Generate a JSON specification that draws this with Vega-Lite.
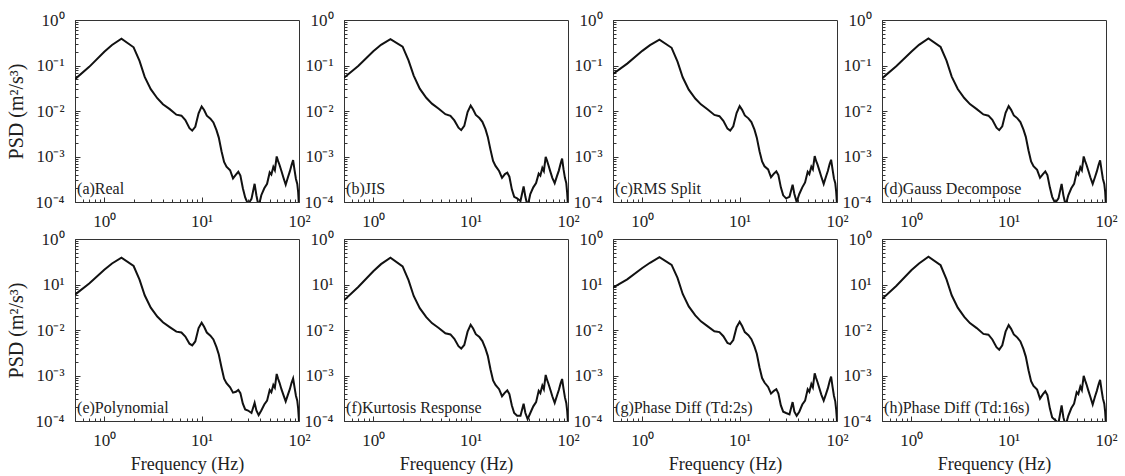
{
"$schema":"https://vega.github.io/schema/vega-lite/v6.json",
"background":"white",
"padding":{"left":5,"top":10,"right":5,"bottom":5},
"datasets":{
"a":[{"f":0.5,"v":0.0501},{"f":0.7,"v":0.0933},{"f":1,"v":0.1995},{"f":1.2,"v":0.2818},{"f":1.5,"v":0.389},{"f":2,"v":0.2512},{"f":2.3,"v":0.1259},{"f":2.6,"v":0.0562},{"f":3,"v":0.0302},{"f":3.5,"v":0.0191},{"f":4,"v":0.0141},{"f":4.7,"v":0.011},{"f":5.5,"v":0.0083},{"f":6.2,"v":0.0079},{"f":6.8,"v":0.0063},{"f":7.5,"v":0.0042},{"f":8,"v":0.0037},{"f":8.6,"v":0.0045},{"f":9.3,"v":0.0089},{"f":10,"v":0.0126},{"f":10.6,"v":0.0105},{"f":11.3,"v":0.0079},{"f":12.3,"v":0.0068},{"f":13.2,"v":0.0056},{"f":14.2,"v":0.0038},{"f":15,"v":0.0026},{"f":16,"v":0.0013},{"f":17,"v":0.00076},{"f":18,"v":0.0006},{"f":19.6,"v":0.0005},{"f":21,"v":0.00033},{"f":22.5,"v":0.0004},{"f":23.8,"v":0.00046},{"f":25,"v":0.00038},{"f":26.5,"v":0.0002},{"f":28,"v":0.000126},{"f":30,"v":0.000089},{"f":32.5,"v":0.000117},{"f":35,"v":0.000251},{"f":36.5,"v":0.000141},{"f":38.5,"v":0.000079},{"f":41,"v":0.000141},{"f":44,"v":0.0002},{"f":47,"v":0.000251},{"f":50,"v":0.000447},{"f":52,"v":0.0004},{"f":54.5,"v":0.000589},{"f":56.5,"v":0.0005},{"f":59,"v":0.001},{"f":61,"v":0.00079},{"f":63,"v":0.00066},{"f":66,"v":0.00048},{"f":69,"v":0.00035},{"f":73,"v":0.00024},{"f":77,"v":0.00035},{"f":80.5,"v":0.00047},{"f":84,"v":0.00066},{"f":87,"v":0.00083},{"f":90,"v":0.0005},{"f":93,"v":0.00032},{"f":96,"v":0.00025},{"f":98,"v":0.000166},{"f":100,"v":0.000079}],
"b":[{"f":0.5,"v":0.054},{"f":0.7,"v":0.098},{"f":1,"v":0.205},{"f":1.2,"v":0.285},{"f":1.5,"v":0.38},{"f":2,"v":0.26},{"f":2.3,"v":0.13},{"f":2.6,"v":0.06},{"f":3,"v":0.031},{"f":3.5,"v":0.0195},{"f":4,"v":0.0145},{"f":4.7,"v":0.0112},{"f":5.5,"v":0.0085},{"f":6.2,"v":0.0078},{"f":6.8,"v":0.0062},{"f":7.5,"v":0.0043},{"f":8,"v":0.0038},{"f":8.6,"v":0.0047},{"f":9.3,"v":0.0095},{"f":10,"v":0.0132},{"f":10.6,"v":0.0108},{"f":11.3,"v":0.0082},{"f":12.3,"v":0.007},{"f":13.2,"v":0.0058},{"f":14.2,"v":0.004},{"f":15,"v":0.0027},{"f":16,"v":0.0014},{"f":17,"v":0.0008},{"f":18,"v":0.00062},{"f":19.6,"v":0.00048},{"f":21,"v":0.00034},{"f":22.5,"v":0.00041},{"f":23.8,"v":0.00044},{"f":25,"v":0.00036},{"f":26.5,"v":0.00019},{"f":28,"v":0.00013},{"f":30,"v":0.00012},{"f":32.5,"v":0.000105},{"f":35,"v":0.00022},{"f":36.5,"v":0.00013},{"f":38.5,"v":0.00008},{"f":41,"v":0.00015},{"f":44,"v":0.00021},{"f":47,"v":0.00026},{"f":50,"v":0.00042},{"f":52,"v":0.00038},{"f":54.5,"v":0.00056},{"f":56.5,"v":0.00048},{"f":59,"v":0.00098},{"f":61,"v":0.0008},{"f":63,"v":0.00064},{"f":66,"v":0.00046},{"f":69,"v":0.00034},{"f":73,"v":0.00026},{"f":77,"v":0.00037},{"f":80.5,"v":0.00049},{"f":84,"v":0.0007},{"f":87,"v":0.0009},{"f":90,"v":0.00052},{"f":93,"v":0.00034},{"f":96,"v":0.00026},{"f":98,"v":0.00016},{"f":100,"v":0.00008}],
"c":[{"f":0.5,"v":0.065},{"f":0.7,"v":0.11},{"f":1,"v":0.21},{"f":1.2,"v":0.28},{"f":1.5,"v":0.37},{"f":2,"v":0.245},{"f":2.3,"v":0.122},{"f":2.6,"v":0.055},{"f":3,"v":0.0295},{"f":3.5,"v":0.0188},{"f":4,"v":0.014},{"f":4.7,"v":0.0108},{"f":5.5,"v":0.0082},{"f":6.2,"v":0.0077},{"f":6.8,"v":0.0061},{"f":7.5,"v":0.0041},{"f":8,"v":0.0037},{"f":8.6,"v":0.0046},{"f":9.3,"v":0.009},{"f":10,"v":0.0128},{"f":10.6,"v":0.0106},{"f":11.3,"v":0.008},{"f":12.3,"v":0.0069},{"f":13.2,"v":0.0057},{"f":14.2,"v":0.0039},{"f":15,"v":0.0026},{"f":16,"v":0.0013},{"f":17,"v":0.00078},{"f":18,"v":0.00061},{"f":19.6,"v":0.00052},{"f":21,"v":0.00035},{"f":22.5,"v":0.00042},{"f":23.8,"v":0.00047},{"f":25,"v":0.00039},{"f":26.5,"v":0.00021},{"f":28,"v":0.00014},{"f":30,"v":0.00012},{"f":32.5,"v":0.00013},{"f":35,"v":0.00024},{"f":36.5,"v":0.00015},{"f":38.5,"v":0.0001},{"f":41,"v":0.00015},{"f":44,"v":0.00021},{"f":47,"v":0.00027},{"f":50,"v":0.00046},{"f":52,"v":0.00041},{"f":54.5,"v":0.0006},{"f":56.5,"v":0.00052},{"f":59,"v":0.00102},{"f":61,"v":0.0008},{"f":63,"v":0.00067},{"f":66,"v":0.00049},{"f":69,"v":0.00036},{"f":73,"v":0.00025},{"f":77,"v":0.00036},{"f":80.5,"v":0.00048},{"f":84,"v":0.00068},{"f":87,"v":0.00085},{"f":90,"v":0.00052},{"f":93,"v":0.00033},{"f":96,"v":0.00026},{"f":98,"v":0.00017},{"f":100,"v":0.00009}],
"d":[{"f":0.5,"v":0.052},{"f":0.7,"v":0.096},{"f":1,"v":0.2},{"f":1.2,"v":0.285},{"f":1.5,"v":0.395},{"f":2,"v":0.255},{"f":2.3,"v":0.128},{"f":2.6,"v":0.057},{"f":3,"v":0.0305},{"f":3.5,"v":0.0193},{"f":4,"v":0.0142},{"f":4.7,"v":0.011},{"f":5.5,"v":0.0084},{"f":6.2,"v":0.0079},{"f":6.8,"v":0.0064},{"f":7.5,"v":0.0043},{"f":8,"v":0.0038},{"f":8.6,"v":0.0046},{"f":9.3,"v":0.0091},{"f":10,"v":0.0128},{"f":10.6,"v":0.0106},{"f":11.3,"v":0.008},{"f":12.3,"v":0.0069},{"f":13.2,"v":0.0057},{"f":14.2,"v":0.0039},{"f":15,"v":0.0027},{"f":16,"v":0.00135},{"f":17,"v":0.00078},{"f":18,"v":0.00061},{"f":19.6,"v":0.00051},{"f":21,"v":0.00034},{"f":22.5,"v":0.00041},{"f":23.8,"v":0.00047},{"f":25,"v":0.00039},{"f":26.5,"v":0.00021},{"f":28,"v":0.00013},{"f":30,"v":0.000095},{"f":32.5,"v":0.00012},{"f":35,"v":0.00025},{"f":36.5,"v":0.00014},{"f":38.5,"v":0.000085},{"f":41,"v":0.00014},{"f":44,"v":0.0002},{"f":47,"v":0.00025},{"f":50,"v":0.00045},{"f":52,"v":0.0004},{"f":54.5,"v":0.00058},{"f":56.5,"v":0.0005},{"f":59,"v":0.001},{"f":61,"v":0.00079},{"f":63,"v":0.00066},{"f":66,"v":0.00048},{"f":69,"v":0.00035},{"f":73,"v":0.00025},{"f":77,"v":0.00035},{"f":80.5,"v":0.00047},{"f":84,"v":0.00066},{"f":87,"v":0.00082},{"f":90,"v":0.0005},{"f":93,"v":0.00032},{"f":96,"v":0.00025},{"f":98,"v":0.00017},{"f":100,"v":0.00008}],
"e":[{"f":0.5,"v":0.06},{"f":0.7,"v":0.105},{"f":1,"v":0.21},{"f":1.2,"v":0.29},{"f":1.5,"v":0.39},{"f":2,"v":0.255},{"f":2.3,"v":0.128},{"f":2.6,"v":0.058},{"f":3,"v":0.031},{"f":3.5,"v":0.0198},{"f":4,"v":0.0148},{"f":4.7,"v":0.0116},{"f":5.5,"v":0.0092},{"f":6.2,"v":0.0088},{"f":6.8,"v":0.0072},{"f":7.5,"v":0.005},{"f":8,"v":0.0046},{"f":8.6,"v":0.0056},{"f":9.3,"v":0.011},{"f":10,"v":0.0145},{"f":10.6,"v":0.0118},{"f":11.3,"v":0.0088},{"f":12.3,"v":0.0075},{"f":13.2,"v":0.0062},{"f":14.2,"v":0.0042},{"f":15,"v":0.0029},{"f":16,"v":0.0015},{"f":17,"v":0.00085},{"f":18,"v":0.00068},{"f":19.6,"v":0.00055},{"f":21,"v":0.00042},{"f":22.5,"v":0.00044},{"f":23.8,"v":0.00048},{"f":25,"v":0.00041},{"f":26.5,"v":0.00024},{"f":28,"v":0.00018},{"f":30,"v":0.00017},{"f":32.5,"v":0.00015},{"f":35,"v":0.00025},{"f":36.5,"v":0.00017},{"f":38.5,"v":0.000135},{"f":41,"v":0.00017},{"f":44,"v":0.00023},{"f":47,"v":0.00028},{"f":50,"v":0.00048},{"f":52,"v":0.00043},{"f":54.5,"v":0.00062},{"f":56.5,"v":0.00054},{"f":59,"v":0.00108},{"f":61,"v":0.00085},{"f":63,"v":0.0007},{"f":66,"v":0.0005},{"f":69,"v":0.00038},{"f":73,"v":0.00027},{"f":77,"v":0.00038},{"f":80.5,"v":0.0005},{"f":84,"v":0.0007},{"f":87,"v":0.00086},{"f":90,"v":0.00055},{"f":93,"v":0.00036},{"f":96,"v":0.00028},{"f":98,"v":0.00019},{"f":100,"v":0.0001}],
"f":[{"f":0.5,"v":0.045},{"f":0.7,"v":0.088},{"f":1,"v":0.195},{"f":1.2,"v":0.28},{"f":1.5,"v":0.39},{"f":2,"v":0.25},{"f":2.3,"v":0.125},{"f":2.6,"v":0.056},{"f":3,"v":0.0302},{"f":3.5,"v":0.0192},{"f":4,"v":0.0142},{"f":4.7,"v":0.0111},{"f":5.5,"v":0.0085},{"f":6.2,"v":0.008},{"f":6.8,"v":0.0064},{"f":7.5,"v":0.0044},{"f":8,"v":0.0039},{"f":8.6,"v":0.0047},{"f":9.3,"v":0.0092},{"f":10,"v":0.013},{"f":10.6,"v":0.0108},{"f":11.3,"v":0.0081},{"f":12.3,"v":0.007},{"f":13.2,"v":0.0057},{"f":14.2,"v":0.0039},{"f":15,"v":0.0027},{"f":16,"v":0.00135},{"f":17,"v":0.00078},{"f":18,"v":0.00062},{"f":19.6,"v":0.0005},{"f":21,"v":0.00035},{"f":22.5,"v":0.00042},{"f":23.8,"v":0.00047},{"f":25,"v":0.00039},{"f":26.5,"v":0.00022},{"f":28,"v":0.00015},{"f":30,"v":0.00013},{"f":32.5,"v":0.00013},{"f":35,"v":0.00024},{"f":36.5,"v":0.00015},{"f":38.5,"v":0.00011},{"f":41,"v":0.00015},{"f":44,"v":0.00021},{"f":47,"v":0.00026},{"f":50,"v":0.00046},{"f":52,"v":0.00041},{"f":54.5,"v":0.0006},{"f":56.5,"v":0.0005},{"f":59,"v":0.00103},{"f":61,"v":0.0008},{"f":63,"v":0.00066},{"f":66,"v":0.00048},{"f":69,"v":0.00035},{"f":73,"v":0.00025},{"f":77,"v":0.00036},{"f":80.5,"v":0.00048},{"f":84,"v":0.00067},{"f":87,"v":0.00084},{"f":90,"v":0.00051},{"f":93,"v":0.00033},{"f":96,"v":0.00025},{"f":98,"v":0.00017},{"f":100,"v":0.00009}],
"g":[{"f":0.5,"v":0.085},{"f":0.7,"v":0.13},{"f":1,"v":0.23},{"f":1.2,"v":0.3},{"f":1.5,"v":0.4},{"f":2,"v":0.27},{"f":2.3,"v":0.14},{"f":2.6,"v":0.062},{"f":3,"v":0.033},{"f":3.5,"v":0.021},{"f":4,"v":0.0155},{"f":4.7,"v":0.012},{"f":5.5,"v":0.0094},{"f":6.2,"v":0.009},{"f":6.8,"v":0.0073},{"f":7.5,"v":0.0052},{"f":8,"v":0.0049},{"f":8.6,"v":0.006},{"f":9.3,"v":0.0115},{"f":10,"v":0.0152},{"f":10.6,"v":0.0122},{"f":11.3,"v":0.009},{"f":12.3,"v":0.0077},{"f":13.2,"v":0.0063},{"f":14.2,"v":0.0043},{"f":15,"v":0.003},{"f":16,"v":0.0015},{"f":17,"v":0.00088},{"f":18,"v":0.0007},{"f":19.6,"v":0.00056},{"f":21,"v":0.0004},{"f":22.5,"v":0.00046},{"f":23.8,"v":0.0005},{"f":25,"v":0.0004},{"f":26.5,"v":0.00022},{"f":28,"v":0.00016},{"f":30,"v":0.00015},{"f":32.5,"v":0.00014},{"f":35,"v":0.00026},{"f":36.5,"v":0.00016},{"f":38.5,"v":0.00013},{"f":41,"v":0.00016},{"f":44,"v":0.00023},{"f":47,"v":0.00028},{"f":50,"v":0.0005},{"f":52,"v":0.00044},{"f":54.5,"v":0.00065},{"f":56.5,"v":0.00055},{"f":59,"v":0.00112},{"f":61,"v":0.00088},{"f":63,"v":0.00072},{"f":66,"v":0.00052},{"f":69,"v":0.00038},{"f":73,"v":0.00028},{"f":77,"v":0.00039},{"f":80.5,"v":0.00052},{"f":84,"v":0.00075},{"f":87,"v":0.00095},{"f":90,"v":0.00056},{"f":93,"v":0.00036},{"f":96,"v":0.00027},{"f":98,"v":0.00018},{"f":100,"v":0.0001}],
"h":[{"f":0.5,"v":0.048},{"f":0.7,"v":0.093},{"f":1,"v":0.205},{"f":1.2,"v":0.29},{"f":1.5,"v":0.41},{"f":2,"v":0.265},{"f":2.3,"v":0.13},{"f":2.6,"v":0.058},{"f":3,"v":0.031},{"f":3.5,"v":0.0195},{"f":4,"v":0.0142},{"f":4.7,"v":0.011},{"f":5.5,"v":0.0082},{"f":6.2,"v":0.0079},{"f":6.8,"v":0.0062},{"f":7.5,"v":0.0042},{"f":8,"v":0.0037},{"f":8.6,"v":0.0046},{"f":9.3,"v":0.0092},{"f":10,"v":0.0128},{"f":10.6,"v":0.0106},{"f":11.3,"v":0.008},{"f":12.3,"v":0.0068},{"f":13.2,"v":0.0056},{"f":14.2,"v":0.0038},{"f":15,"v":0.0026},{"f":16,"v":0.0013},{"f":17,"v":0.00075},{"f":18,"v":0.00059},{"f":19.6,"v":0.00049},{"f":21,"v":0.00031},{"f":22.5,"v":0.00039},{"f":23.8,"v":0.00045},{"f":25,"v":0.00037},{"f":26.5,"v":0.00019},{"f":28,"v":0.00012},{"f":30,"v":0.000105},{"f":32.5,"v":0.00009},{"f":35,"v":0.00022},{"f":36.5,"v":0.00012},{"f":38.5,"v":0.00008},{"f":41,"v":0.00013},{"f":44,"v":0.00019},{"f":47,"v":0.00024},{"f":50,"v":0.00043},{"f":52,"v":0.00039},{"f":54.5,"v":0.00057},{"f":56.5,"v":0.00048},{"f":59,"v":0.00098},{"f":61,"v":0.00078},{"f":63,"v":0.00064},{"f":66,"v":0.00046},{"f":69,"v":0.00034},{"f":73,"v":0.00023},{"f":77,"v":0.00034},{"f":80.5,"v":0.00046},{"f":84,"v":0.00064},{"f":87,"v":0.0008},{"f":90,"v":0.00048},{"f":93,"v":0.00031},{"f":96,"v":0.00024},{"f":98,"v":0.00016},{"f":100,"v":0.00008}]
},
"columns":4,
"spacing":{"row":37,"column":45},
"bounds":"flush",
"concat":[
{"width":224,"height":182,"layer":[
 {"data":{"name":"a"},"mark":{"type":"line","color":"#111","strokeWidth":2,"clip":true},
  "encoding":{"x":{"field":"f","type":"quantitative","scale":{"type":"log","domain":[0.5,100],"nice":false},"axis":{"title":null,"values":[0.6,0.7,0.8,0.9,1,2,3,4,5,6,7,8,9,10,20,30,40,50,60,70,80,90,100],"labelExpr":"datum.value==1?'10⁰':datum.value==10?'10¹':datum.value==100?'10²':''","tickSize":{"condition":{"test":"datum.value==1||datum.value==10||datum.value==100","value":-5},"value":-3}}},
   "y":{"field":"v","type":"quantitative","scale":{"type":"log","domain":[0.0001,1],"nice":false},"axis":{"title":"PSD (m²/s³)","values":[0.0001,0.0002,0.0003,0.0004,0.0005,0.0006,0.0007,0.0008,0.0009,0.001,0.002,0.003,0.004,0.005,0.006,0.007,0.008,0.009,0.01,0.02,0.03,0.04,0.05,0.06,0.07,0.08,0.09,0.1,0.2,0.3,0.4,0.5,0.6,0.7,0.8,0.9,1],"labelExpr":"datum.value==1?'10⁰':datum.value==0.1?'10⁻¹':datum.value==0.01?'10⁻²':datum.value==0.001?'10⁻³':datum.value==0.0001?'10⁻⁴':''","tickSize":{"condition":{"test":"datum.value==1||datum.value==0.1||datum.value==0.01||datum.value==0.001||datum.value==0.0001","value":-5},"value":-3}}}}},
 {"data":{"values":[{"label":"(a)Real"}]},"mark":{"type":"text","align":"left","baseline":"alphabetic"},
  "encoding":{"x":{"datum":0.525,"type":"quantitative"},"y":{"datum":0.00015,"type":"quantitative"},"text":{"field":"label"}}}
]},
{"width":224,"height":182,"layer":[
 {"data":{"name":"b"},"mark":{"type":"line","color":"#111","strokeWidth":2,"clip":true},
  "encoding":{"x":{"field":"f","type":"quantitative","scale":{"type":"log","domain":[0.5,100],"nice":false},"axis":{"title":null,"values":[0.6,0.7,0.8,0.9,1,2,3,4,5,6,7,8,9,10,20,30,40,50,60,70,80,90,100],"labelExpr":"datum.value==1?'10⁰':datum.value==10?'10¹':datum.value==100?'10²':''","tickSize":{"condition":{"test":"datum.value==1||datum.value==10||datum.value==100","value":-5},"value":-3}}},
   "y":{"field":"v","type":"quantitative","scale":{"type":"log","domain":[0.0001,1],"nice":false},"axis":{"title":null,"values":[0.0001,0.0002,0.0003,0.0004,0.0005,0.0006,0.0007,0.0008,0.0009,0.001,0.002,0.003,0.004,0.005,0.006,0.007,0.008,0.009,0.01,0.02,0.03,0.04,0.05,0.06,0.07,0.08,0.09,0.1,0.2,0.3,0.4,0.5,0.6,0.7,0.8,0.9,1],"labelExpr":"datum.value==1?'10⁰':datum.value==0.1?'10⁻¹':datum.value==0.01?'10⁻²':datum.value==0.001?'10⁻³':datum.value==0.0001?'10⁻⁴':''","tickSize":{"condition":{"test":"datum.value==1||datum.value==0.1||datum.value==0.01||datum.value==0.001||datum.value==0.0001","value":-5},"value":-3}}}}},
 {"data":{"values":[{"label":"(b)JIS"}]},"mark":{"type":"text","align":"left","baseline":"alphabetic"},
  "encoding":{"x":{"datum":0.525,"type":"quantitative"},"y":{"datum":0.00015,"type":"quantitative"},"text":{"field":"label"}}}
]},
{"width":224,"height":182,"layer":[
 {"data":{"name":"c"},"mark":{"type":"line","color":"#111","strokeWidth":2,"clip":true},
  "encoding":{"x":{"field":"f","type":"quantitative","scale":{"type":"log","domain":[0.5,100],"nice":false},"axis":{"title":null,"values":[0.6,0.7,0.8,0.9,1,2,3,4,5,6,7,8,9,10,20,30,40,50,60,70,80,90,100],"labelExpr":"datum.value==1?'10⁰':datum.value==10?'10¹':datum.value==100?'10²':''","tickSize":{"condition":{"test":"datum.value==1||datum.value==10||datum.value==100","value":-5},"value":-3}}},
   "y":{"field":"v","type":"quantitative","scale":{"type":"log","domain":[0.0001,1],"nice":false},"axis":{"title":null,"values":[0.0001,0.0002,0.0003,0.0004,0.0005,0.0006,0.0007,0.0008,0.0009,0.001,0.002,0.003,0.004,0.005,0.006,0.007,0.008,0.009,0.01,0.02,0.03,0.04,0.05,0.06,0.07,0.08,0.09,0.1,0.2,0.3,0.4,0.5,0.6,0.7,0.8,0.9,1],"labelExpr":"datum.value==1?'10⁰':datum.value==0.1?'10⁻¹':datum.value==0.01?'10⁻²':datum.value==0.001?'10⁻³':datum.value==0.0001?'10⁻⁴':''","tickSize":{"condition":{"test":"datum.value==1||datum.value==0.1||datum.value==0.01||datum.value==0.001||datum.value==0.0001","value":-5},"value":-3}}}}},
 {"data":{"values":[{"label":"(c)RMS Split"}]},"mark":{"type":"text","align":"left","baseline":"alphabetic"},
  "encoding":{"x":{"datum":0.525,"type":"quantitative"},"y":{"datum":0.00015,"type":"quantitative"},"text":{"field":"label"}}}
]},
{"width":224,"height":182,"layer":[
 {"data":{"name":"d"},"mark":{"type":"line","color":"#111","strokeWidth":2,"clip":true},
  "encoding":{"x":{"field":"f","type":"quantitative","scale":{"type":"log","domain":[0.5,100],"nice":false},"axis":{"title":null,"values":[0.6,0.7,0.8,0.9,1,2,3,4,5,6,7,8,9,10,20,30,40,50,60,70,80,90,100],"labelExpr":"datum.value==1?'10⁰':datum.value==10?'10¹':datum.value==100?'10²':''","tickSize":{"condition":{"test":"datum.value==1||datum.value==10||datum.value==100","value":-5},"value":-3}}},
   "y":{"field":"v","type":"quantitative","scale":{"type":"log","domain":[0.0001,1],"nice":false},"axis":{"title":null,"values":[0.0001,0.0002,0.0003,0.0004,0.0005,0.0006,0.0007,0.0008,0.0009,0.001,0.002,0.003,0.004,0.005,0.006,0.007,0.008,0.009,0.01,0.02,0.03,0.04,0.05,0.06,0.07,0.08,0.09,0.1,0.2,0.3,0.4,0.5,0.6,0.7,0.8,0.9,1],"labelExpr":"datum.value==1?'10⁰':datum.value==0.1?'10⁻¹':datum.value==0.01?'10⁻²':datum.value==0.001?'10⁻³':datum.value==0.0001?'10⁻⁴':''","tickSize":{"condition":{"test":"datum.value==1||datum.value==0.1||datum.value==0.01||datum.value==0.001||datum.value==0.0001","value":-5},"value":-3}}}}},
 {"data":{"values":[{"label":"(d)Gauss Decompose"}]},"mark":{"type":"text","align":"left","baseline":"alphabetic"},
  "encoding":{"x":{"datum":0.525,"type":"quantitative"},"y":{"datum":0.00015,"type":"quantitative"},"text":{"field":"label"}}}
]},
{"width":224,"height":182,"layer":[
 {"data":{"name":"e"},"mark":{"type":"line","color":"#111","strokeWidth":2,"clip":true},
  "encoding":{"x":{"field":"f","type":"quantitative","scale":{"type":"log","domain":[0.5,100],"nice":false},"axis":{"title":"Frequency (Hz)","values":[0.6,0.7,0.8,0.9,1,2,3,4,5,6,7,8,9,10,20,30,40,50,60,70,80,90,100],"labelExpr":"datum.value==1?'10⁰':datum.value==10?'10¹':datum.value==100?'10²':''","tickSize":{"condition":{"test":"datum.value==1||datum.value==10||datum.value==100","value":-5},"value":-3}}},
   "y":{"field":"v","type":"quantitative","scale":{"type":"log","domain":[0.0001,1],"nice":false},"axis":{"title":"PSD (m²/s³)","values":[0.0001,0.0002,0.0003,0.0004,0.0005,0.0006,0.0007,0.0008,0.0009,0.001,0.002,0.003,0.004,0.005,0.006,0.007,0.008,0.009,0.01,0.02,0.03,0.04,0.05,0.06,0.07,0.08,0.09,0.1,0.2,0.3,0.4,0.5,0.6,0.7,0.8,0.9,1],"labelExpr":"datum.value==1?'10⁰':datum.value==0.1?'10¹':datum.value==0.01?'10⁻²':datum.value==0.001?'10⁻³':datum.value==0.0001?'10⁻⁴':''","tickSize":{"condition":{"test":"datum.value==1||datum.value==0.1||datum.value==0.01||datum.value==0.001||datum.value==0.0001","value":-5},"value":-3}}}}},
 {"data":{"values":[{"label":"(e)Polynomial"}]},"mark":{"type":"text","align":"left","baseline":"alphabetic"},
  "encoding":{"x":{"datum":0.525,"type":"quantitative"},"y":{"datum":0.00015,"type":"quantitative"},"text":{"field":"label"}}}
]},
{"width":224,"height":182,"layer":[
 {"data":{"name":"f"},"mark":{"type":"line","color":"#111","strokeWidth":2,"clip":true},
  "encoding":{"x":{"field":"f","type":"quantitative","scale":{"type":"log","domain":[0.5,100],"nice":false},"axis":{"title":"Frequency (Hz)","values":[0.6,0.7,0.8,0.9,1,2,3,4,5,6,7,8,9,10,20,30,40,50,60,70,80,90,100],"labelExpr":"datum.value==1?'10⁰':datum.value==10?'10¹':datum.value==100?'10²':''","tickSize":{"condition":{"test":"datum.value==1||datum.value==10||datum.value==100","value":-5},"value":-3}}},
   "y":{"field":"v","type":"quantitative","scale":{"type":"log","domain":[0.0001,1],"nice":false},"axis":{"title":null,"values":[0.0001,0.0002,0.0003,0.0004,0.0005,0.0006,0.0007,0.0008,0.0009,0.001,0.002,0.003,0.004,0.005,0.006,0.007,0.008,0.009,0.01,0.02,0.03,0.04,0.05,0.06,0.07,0.08,0.09,0.1,0.2,0.3,0.4,0.5,0.6,0.7,0.8,0.9,1],"labelExpr":"datum.value==1?'10⁰':datum.value==0.1?'10¹':datum.value==0.01?'10⁻²':datum.value==0.001?'10⁻³':datum.value==0.0001?'10⁻⁴':''","tickSize":{"condition":{"test":"datum.value==1||datum.value==0.1||datum.value==0.01||datum.value==0.001||datum.value==0.0001","value":-5},"value":-3}}}}},
 {"data":{"values":[{"label":"(f)Kurtosis Response"}]},"mark":{"type":"text","align":"left","baseline":"alphabetic"},
  "encoding":{"x":{"datum":0.525,"type":"quantitative"},"y":{"datum":0.00015,"type":"quantitative"},"text":{"field":"label"}}}
]},
{"width":224,"height":182,"layer":[
 {"data":{"name":"g"},"mark":{"type":"line","color":"#111","strokeWidth":2,"clip":true},
  "encoding":{"x":{"field":"f","type":"quantitative","scale":{"type":"log","domain":[0.5,100],"nice":false},"axis":{"title":"Frequency (Hz)","values":[0.6,0.7,0.8,0.9,1,2,3,4,5,6,7,8,9,10,20,30,40,50,60,70,80,90,100],"labelExpr":"datum.value==1?'10⁰':datum.value==10?'10¹':datum.value==100?'10²':''","tickSize":{"condition":{"test":"datum.value==1||datum.value==10||datum.value==100","value":-5},"value":-3}}},
   "y":{"field":"v","type":"quantitative","scale":{"type":"log","domain":[0.0001,1],"nice":false},"axis":{"title":null,"values":[0.0001,0.0002,0.0003,0.0004,0.0005,0.0006,0.0007,0.0008,0.0009,0.001,0.002,0.003,0.004,0.005,0.006,0.007,0.008,0.009,0.01,0.02,0.03,0.04,0.05,0.06,0.07,0.08,0.09,0.1,0.2,0.3,0.4,0.5,0.6,0.7,0.8,0.9,1],"labelExpr":"datum.value==1?'10⁰':datum.value==0.1?'10¹':datum.value==0.01?'10⁻²':datum.value==0.001?'10⁻³':datum.value==0.0001?'10⁻⁴':''","tickSize":{"condition":{"test":"datum.value==1||datum.value==0.1||datum.value==0.01||datum.value==0.001||datum.value==0.0001","value":-5},"value":-3}}}}},
 {"data":{"values":[{"label":"(g)Phase Diff (Td:2s)"}]},"mark":{"type":"text","align":"left","baseline":"alphabetic"},
  "encoding":{"x":{"datum":0.525,"type":"quantitative"},"y":{"datum":0.00015,"type":"quantitative"},"text":{"field":"label"}}}
]},
{"width":224,"height":182,"layer":[
 {"data":{"name":"h"},"mark":{"type":"line","color":"#111","strokeWidth":2,"clip":true},
  "encoding":{"x":{"field":"f","type":"quantitative","scale":{"type":"log","domain":[0.5,100],"nice":false},"axis":{"title":"Frequency (Hz)","values":[0.6,0.7,0.8,0.9,1,2,3,4,5,6,7,8,9,10,20,30,40,50,60,70,80,90,100],"labelExpr":"datum.value==1?'10⁰':datum.value==10?'10¹':datum.value==100?'10²':''","tickSize":{"condition":{"test":"datum.value==1||datum.value==10||datum.value==100","value":-5},"value":-3}}},
   "y":{"field":"v","type":"quantitative","scale":{"type":"log","domain":[0.0001,1],"nice":false},"axis":{"title":null,"values":[0.0001,0.0002,0.0003,0.0004,0.0005,0.0006,0.0007,0.0008,0.0009,0.001,0.002,0.003,0.004,0.005,0.006,0.007,0.008,0.009,0.01,0.02,0.03,0.04,0.05,0.06,0.07,0.08,0.09,0.1,0.2,0.3,0.4,0.5,0.6,0.7,0.8,0.9,1],"labelExpr":"datum.value==1?'10⁰':datum.value==0.1?'10¹':datum.value==0.01?'10⁻²':datum.value==0.001?'10⁻³':datum.value==0.0001?'10⁻⁴':''","tickSize":{"condition":{"test":"datum.value==1||datum.value==0.1||datum.value==0.01||datum.value==0.001||datum.value==0.0001","value":-5},"value":-3}}}}},
 {"data":{"values":[{"label":"(h)Phase Diff (Td:16s)"}]},"mark":{"type":"text","align":"left","baseline":"alphabetic"},
  "encoding":{"x":{"datum":0.525,"type":"quantitative"},"y":{"datum":0.00015,"type":"quantitative"},"text":{"field":"label"}}}
]}
],
"config":{
 "view":{"stroke":"#333","strokeWidth":1},
 "axis":{"grid":false,"domainColor":"#333","tickColor":"#333","tickWidth":1,"labelFont":"Liberation Serif","labelFontSize":17,"labelColor":"#222","titleFont":"Liberation Serif","titleFontSize":18,"titleFontWeight":"normal","titleColor":"#222","labelOverlap":false,"labelFlush":false,"labelBound":false},
 "axisX":{"labelPadding":16,"titlePadding":5},
 "axisY":{"labelPadding":16,"titlePadding":9,"titleFontSize":20},
 "text":{"font":"Liberation Serif","fontSize":16,"color":"#222"}
}
}
